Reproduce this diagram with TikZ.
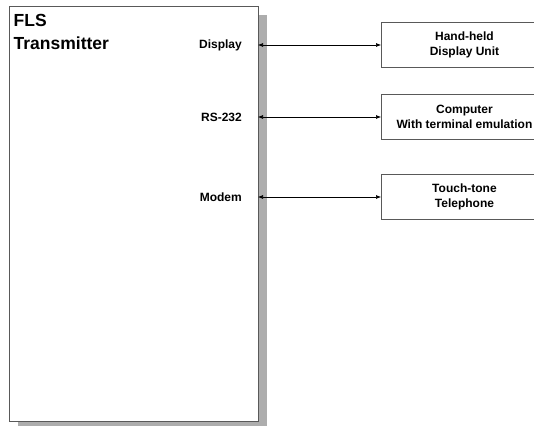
\documentclass[tikz,border=0pt]{standalone}
\usepackage{fontspec}
\setmainfont{Liberation Sans}
\usetikzlibrary{arrows.meta}

\tikzset{
  mainbox/.style={draw=black!65, line width=0.9pt, fill=white},
  boxshadow/.style={fill=black!32},
  devbox/.style={draw=black!65, line width=0.9pt, fill=white, minimum width=166pt,
    minimum height=45pt, inner sep=0pt, align=center,
    font=\bfseries\fontsize{12}{15}\selectfont},
  portlbl/.style={anchor=east, inner sep=0pt, font=\bfseries\fontsize{12}{14}\selectfont},
  link/.style={{Latex[length=5pt,width=4pt]}-{Latex[length=5pt,width=4pt]}, line width=0.6pt}
}

\begin{document}
\begin{tikzpicture}[x=1pt, y=-1pt]

  \useasboundingbox (0,0) rectangle (534,425);
  \clip (0,0) rectangle (534,425);

	%transmitter
  \fill[boxshadow] (18,15) rectangle (267,430);
  \draw[mainbox] (9,6) rectangle (258,421);
  \node[anchor=north west, inner sep=0pt, align=left,
        font=\bfseries\fontsize{17.5}{23}\selectfont] (title) at (13.5,14) {FLS\\Transmitter};

	%ports and devices
    \foreach \y/\port/\dev/\name in {45/Display/{Hand-held\\Display Unit}/disp,
                                     117/RS-232/{Computer\\With terminal emulation}/term,
                                     197/Modem/{Touch-tone\\Telephone}/phone}{
         \node[portlbl] (\name lbl) at (242,\y) {\port};
         \coordinate (\name port) at (258,\y);
         \node[devbox, anchor=west] (\name) at (381,\y) {\dev};
         \draw[link] (\name port) -- (\name.west);
    }

\end{tikzpicture}
\end{document}
